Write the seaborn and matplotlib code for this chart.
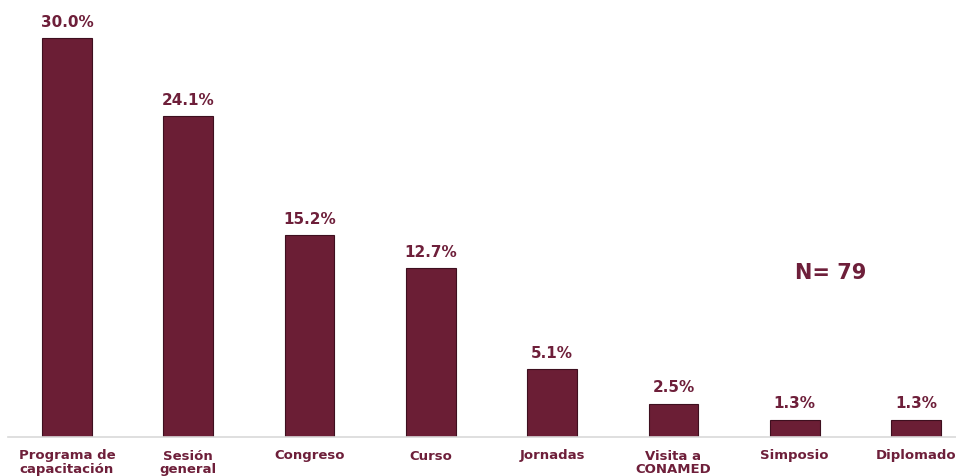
import matplotlib
matplotlib.use("Agg")
import matplotlib.pyplot as plt
import seaborn as sns
import pandas as pd

categorias = ["Programa de\ncapacitación", "Sesión\ngeneral", "Congreso", "Curso",
              "Jornadas", "Visita a\nCONAMED", "Simposio", "Diplomado"]
porcentajes = [30.0, 24.1, 15.2, 12.7, 5.1, 2.5, 1.3, 1.3]
total_n = 79

guinda = "#6B1E35"
texto = "#6E1F3A"

sns.set_theme(style="white")
plt.rcParams["font.family"] = ["DejaVu Sans"]

df = pd.DataFrame({"categoria": categorias, "porcentaje": porcentajes})

fig = plt.figure(figsize=(9.56, 4.76), dpi=100)
ax = fig.add_axes([8 / 956, 39 / 476, 948 / 956, 437 / 476])

sns.barplot(data=df, x="categoria", y="porcentaje", color=guinda, width=0.41,
            saturation=1, ax=ax, edgecolor="#3E0F1F", linewidth=0.8)

for cont in ax.containers:
    ax.bar_label(cont, labels=[f"{v:.1f}%" for v in porcentajes], padding=6,
                 fontsize=11, fontweight="bold", color=texto)

ax.set_xlim(-0.486, 7.33)
ax.set_ylim(0, 437 / 13.3)
ax.set_xlabel("")
ax.set_ylabel("")
ax.set_yticks([])
ax.tick_params(axis="x", length=0, pad=9)
for lbl in ax.get_xticklabels():
    lbl.set_fontsize(9.5)
    lbl.set_fontweight("bold")
    lbl.set_color(texto)
    lbl.set_linespacing(1.05)

for side in ["top", "right", "left"]:
    ax.spines[side].set_visible(False)
ax.spines["bottom"].set_color("#D9D9D9")
ax.spines["bottom"].set_linewidth(1.2)

ax.text(6.3, 12.3, f"N= {total_n}", fontsize=15, fontweight="bold",
        color=texto, ha="center", va="center")

fig.savefig("out.png", dpi=100)
